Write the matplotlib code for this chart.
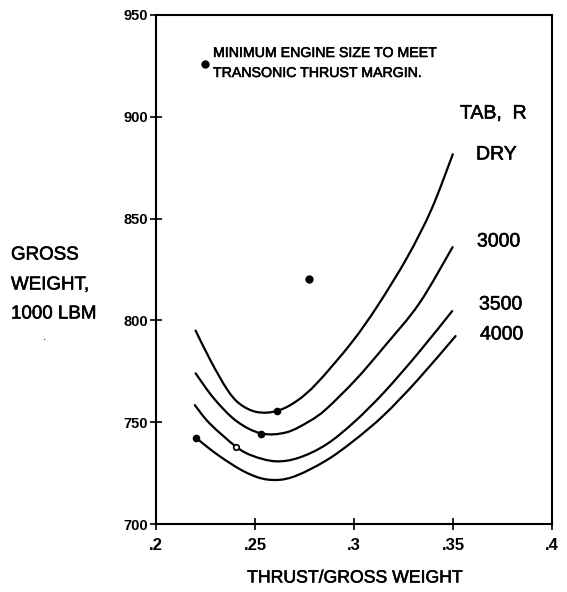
# Libraries
import numpy as np
import matplotlib
matplotlib.use('Agg')
import matplotlib.pyplot as plt
from matplotlib.path import Path
from matplotlib.patches import PathPatch
import matplotlib.patheffects as pe

plt.rcParams['font.family'] = ['Liberation Sans', 'DejaVu Sans']

# ***************** Data *****************
# Thrust/gross weight vs gross weight (1000 lbm) for each TAB, R
tw_dry = [0.2200, 0.2277, 0.2360, 0.2423, 0.2509, 0.2610, 0.2712, 0.2816, 0.2987, 0.3118, 0.3269, 0.3391, 0.3499]
gw_dry = [795.0, 780.0, 766.0, 759.0, 755.0, 755.5, 760.5, 769.5, 789.0, 807.0, 831.0, 854.5, 881.6]

tw_3000 = [0.2200, 0.2293, 0.2407, 0.2531, 0.2658, 0.2775, 0.2860, 0.3010, 0.3158, 0.3330, 0.3498]
gw_3000 = [774.0, 761.6, 750.5, 744.5, 745.0, 750.5, 756.5, 771.0, 787.7, 808.4, 836.0]

tw_3500 = [0.2196, 0.2271, 0.2404, 0.2488, 0.2603, 0.2720, 0.2859, 0.3000, 0.3152, 0.3324, 0.3496]
gw_3500 = [758.4, 749.4, 738.0, 733.5, 730.8, 732.5, 739.0, 750.0, 764.7, 783.9, 804.6]

tw_4000 = [0.2203, 0.2317, 0.2451, 0.2566, 0.2688, 0.2856, 0.3000, 0.3150, 0.3321, 0.3513]
gw_4000 = [742.2, 733.6, 725.5, 721.8, 723.0, 731.0, 741.0, 753.4, 770.7, 792.3]

# Minimum engine size to meet transonic thrust margin (one per curve)
tw_min = [0.2610, 0.2531, 0.2203]
gw_min = [755.5, 744.0, 742.2]
tw_min_open = [0.2404]
gw_min_open = [738.0]

# Key symbol and a stray blot in the scan
tw_key, gw_key = [0.2247], [926.0]
tw_blot, gw_blot = [0.2772], [820.4]

x_ticks = [0.2, 0.25, 0.3, 0.35, 0.4]
x_tick_labels = ['.2', '.25', '.3', '.35', '.4']
y_ticks = [700, 750, 800, 850, 900, 950]

W, H = 567, 592


def fx(px):
    return px / W


def fy(py):
    return 1 - py / H


def smooth_path(xs, ys):
    # Catmull-Rom through the read points, drawn as cubic Bezier segments
    p = np.column_stack([xs, ys])
    p = np.vstack([p[0], p, p[-1]])
    verts = [p[1]]
    codes = [Path.MOVETO]
    for i in range(1, len(p) - 2):
        c1 = p[i] + (p[i + 1] - p[i - 1]) / 6
        c2 = p[i + 1] - (p[i + 2] - p[i]) / 6
        verts += [c1, c2, p[i + 1]]
        codes += [Path.CURVE4] * 3
    return Path(verts, codes)


fig = plt.figure(figsize=(5.67, 5.92), dpi=100)
ax = fig.add_axes([156 / W, 1 - 524 / H, 396 / W, 509 / H])

for tw, gw in [(tw_dry, gw_dry), (tw_3000, gw_3000), (tw_3500, gw_3500), (tw_4000, gw_4000)]:
    ax.add_patch(PathPatch(smooth_path(tw, gw), fill=False, edgecolor='black',
                           lw=1.6, capstyle='round', transform=ax.transData))

ax.plot(tw_min, gw_min, 'o', color='black', ms=4.5)
ax.plot(tw_min_open, gw_min_open, 'o', mfc='white', mec='black', mew=1.2, ms=4)
ax.plot(tw_key, gw_key, 'o', color='black', ms=5)
ax.plot(tw_blot, gw_blot, 'o', color='black', ms=5)

ax.set_xlim(0.2, 0.4)
ax.set_ylim(700, 950)
ax.set_xticks(x_ticks)
ax.set_xticklabels(x_tick_labels, fontsize=12, fontweight='bold')
ax.set_yticks(y_ticks)
ax.set_yticklabels([str(v) for v in y_ticks], fontsize=10.5, fontweight='bold')
ax.tick_params(direction='inout', length=8, width=1.2, pad=2)
ax.tick_params(axis='x', pad=6)
for s in ax.spines.values():
    s.set_linewidth(1.5)

# ***************** Texts *****************
heavy = [pe.withStroke(linewidth=0.4, foreground='black')]

fig.text(fx(213), fy(53), 'MINIMUM ENGINE SIZE TO MEET', fontsize=10.2, va='center', path_effects=heavy)
fig.text(fx(213), fy(73), 'TRANSONIC THRUST MARGIN.', fontsize=10.2, va='center', path_effects=heavy)

fig.text(fx(460), fy(114), 'TAB,  R', fontsize=14, va='center', path_effects=heavy)
fig.text(fx(476), fy(155), 'DRY', fontsize=14, va='center', path_effects=heavy)
fig.text(fx(477), fy(242), '3000', fontsize=14, va='center', path_effects=heavy)
fig.text(fx(479), fy(305), '3500', fontsize=14, va='center', path_effects=heavy)
fig.text(fx(480), fy(335), '4000', fontsize=14, va='center', path_effects=heavy)

fig.text(fx(11), fy(255), 'GROSS', fontsize=13.5, va='center', path_effects=heavy)
fig.text(fx(11), fy(285), 'WEIGHT,', fontsize=13.5, va='center', path_effects=heavy)
fig.text(fx(11), fy(314), '1000 LBM', fontsize=13.5, va='center', path_effects=heavy)
fig.text(fx(45), fy(337), '.', fontsize=9, ha='center', va='center')

fig.text(fx(355), fy(578), 'THRUST/GROSS WEIGHT', fontsize=12.7, ha='center', va='center', path_effects=heavy)

plt.savefig('out.png', dpi=100)
